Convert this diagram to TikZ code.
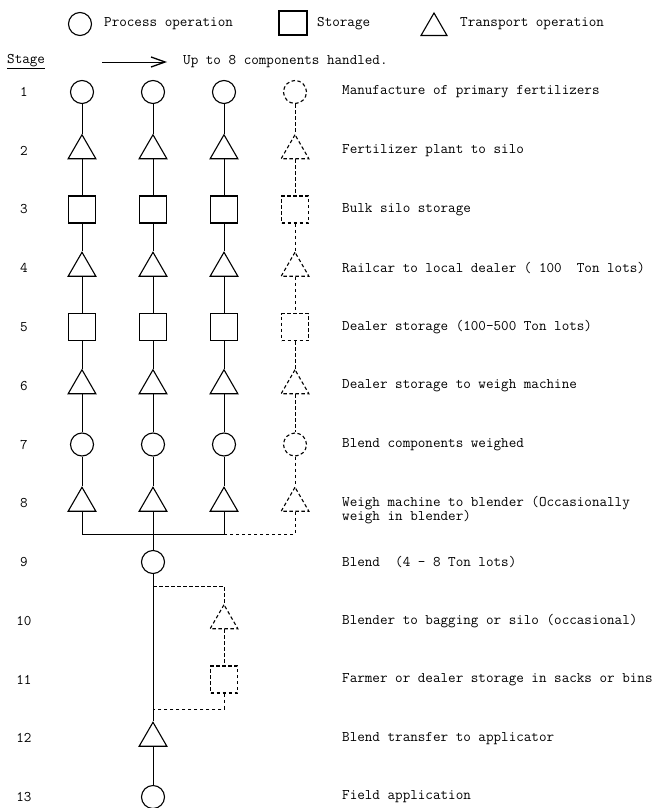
\documentclass[tikz,border=0pt]{standalone}
\usetikzlibrary{shapes.geometric,arrows.meta}
\begin{document}
\begin{tikzpicture}[x=1pt,y=-1pt,
  proc/.style={circle,draw,line width=1.1pt,minimum size=23pt,inner sep=0pt},
  stor/.style={rectangle,draw,line width=1.1pt,minimum size=27pt,inner sep=0pt},
  trans/.style={regular polygon,regular polygon sides=3,draw,line width=1.1pt,minimum size=32pt,inner sep=0pt},
  opt/.style={dash pattern=on 3.5pt off 2.5pt},
  flow/.style={line width=0.8pt},
  txt/.style={font=\fontsize{14.7}{14}\selectfont\ttfamily,anchor=west,inner sep=0pt,align=left},
  stagenum/.style={font=\fontsize{14.7}{14}\selectfont\ttfamily,anchor=center,inner sep=0pt}
]
\useasboundingbox (0,0) rectangle (663,808);

% legend
\node[proc] (lp) at (80,24) {};
\node[txt] (lpt) at (104,24) {Process operation};
\node[stor,minimum width=28pt,minimum height=24pt] (ls) at (293,23) {};
\node[txt] (lst) at (317,24) {Storage};
\node[trans,minimum size=30pt] (lt) at (434,28) {};
\node[txt] (ltt) at (460,24) {Transport operation};

% heading line
\node[txt] (stg) at (7,62) {\underline{Stage}};
\coordinate (arA) at (102,62);
\coordinate (arB) at (167,62);
\draw[line width=0.7pt,-{Straight Barb[length=14pt,width=10pt,line width=1.3pt]}] (arA) -- (arB);
\node[txt] (upto) at (183,62) {Up to 8 components handled.};

% component columns, stages 1-8
\foreach \c/\x/\s in {1/82/solid,2/153/solid,3/224/solid,4/295/opt} {
  \node[proc,\s]  (n1-\c) at (\x,92) {};
  \node[trans,\s] (n2-\c) at (\x,150.75) {};
  \node[stor,\s]  (n3-\c) at (\x,209.5) {};
  \node[trans,\s] (n4-\c) at (\x,268.25) {};
  \node[stor,\s]  (n5-\c) at (\x,327) {};
  \node[trans,\s] (n6-\c) at (\x,385.75) {};
  \node[proc,\s]  (n7-\c) at (\x,444.5) {};
  \node[trans,\s] (n8-\c) at (\x,503.25) {};
  \foreach \r [count=\q from 2] in {1,...,7} {
    \draw[flow,\s] (n\r-\c) -- (n\q-\c);
  }
}

% blend and downstream
\node[proc] (n9) at (153,562) {};
\node[trans,opt] (n10) at (224,620.75) {};
\node[stor,opt] (n11) at (224,679.5) {};
\node[trans] (n12) at (153,738.25) {};
\node[proc] (n13) at (153,797) {};

% collecting bus under stage 8
\coordinate (bus) at (0,534);
\draw[flow] (n8-1) -- (n8-1 |- bus) -- (n8-3 |- bus);
\draw[flow] (n8-3) -- (n8-3 |- bus);
\draw[flow] (n8-2) -- (n9);
\draw[flow,opt] (n8-4) |- (n8-3 |- bus);

% main line and occasional bagging branch
\coordinate (b1) at (153,586);
\coordinate (b2) at (153,709);
\draw[flow] (n9) -- (n12);
\draw[flow,opt] (b1) -| (n10);
\draw[flow,opt] (n10) -- (n11);
\draw[flow,opt] (n11) |- (b2);
\draw[flow] (n12) -- (n13);

% stage numbers
\foreach \k [evaluate=\k as \yy using 92+(\k-1)*58.75] in {1,...,13} {
  \node[stagenum] (s\k) at (24,\yy) {\k};
}

% stage descriptions
\node[txt] (d1) at (342,92) {Manufacture of primary fertilizers};
\node[txt] (d2) at (342,150.75) {Fertilizer plant to silo};
\node[txt] (d3) at (342,209.5) {Bulk silo storage};
\node[txt] (d4) at (342,268.25) {Railcar to local dealer ( 100~ Ton lots)};
\node[txt] (d5) at (342,327) {Dealer storage (100-500 Ton lots)};
\node[txt] (d6) at (342,385.75) {Dealer storage to weigh machine};
\node[txt] (d7) at (342,444.5) {Blend components weighed};
\node[txt] (d8) at (342,510.5) {Weigh machine to blender (Occasionally\\weigh in blender)};
\node[txt] (d9) at (342,562) {Blend~ (4 - 8 Ton lots)};
\node[txt] (d10) at (342,620.75) {Blender to bagging or silo (occasional)};
\node[txt] (d11) at (342,679.5) {Farmer or dealer storage in sacks or bins};
\node[txt] (d12) at (342,738.25) {Blend transfer to applicator};
\node[txt] (d13) at (342,797) {Field application};
\end{tikzpicture}
\end{document}
